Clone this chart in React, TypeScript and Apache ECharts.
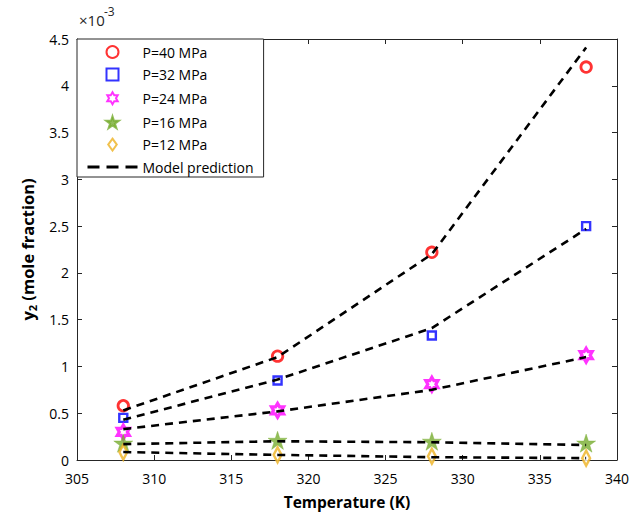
import React, { useEffect, useRef } from "react";
import * as echarts from "echarts";

const temperatures = [308, 318, 328, 338];
const seriesNames = ["P=40 MPa", "P=32 MPa", "P=24 MPa", "P=16 MPa", "P=12 MPa"];
// experimental y2 (x10^-3)
const exp40 = [0.58, 1.11, 2.22, 4.2];
const exp32 = [0.45, 0.85, 1.33, 2.5];
const exp24 = [0.3, 0.53, 0.81, 1.12];
const exp16 = [0.18, 0.21, 0.2, 0.18];
const exp12 = [0.085, 0.055, 0.04, 0.02];
// model prediction (x10^-3)
const mod40 = [0.53, 1.1, 2.2, 4.41];
const mod32 = [0.43, 0.86, 1.41, 2.47];
const mod24 = [0.33, 0.52, 0.75, 1.1];
const mod16 = [0.17, 0.2, 0.19, 0.16];
const mod12 = [0.085, 0.055, 0.03, 0.02];
const modelName = "Model prediction";

const xTicks = { min: 305, max: 340, interval: 5 };
const yTicks = { min: 0, max: 4.5, interval: 0.5 };

const HEX = "path://M50 0 L64.43 25 L93.3 25 L78.87 50 L93.3 75 L64.43 75 L50 100 L35.57 75 L6.7 75 L21.13 50 L6.7 25 L35.57 25 Z";
const STAR = "path://M50 0 L61.2 34.55 L97.55 34.55 L68.17 55.9 L79.39 90.45 L50 69.1 L20.61 90.45 L31.83 55.9 L2.45 34.55 L38.78 34.55 Z";
const SQUARE = "path://M0 0 L10 0 L10 10 L0 10 Z";
const DIAMOND = "path://M5 0 L10 7 L5 14 L0 7 Z";

const FONT = "Open Sans";
const AX = "#262626";

export default function App() {
  const ref = useRef<HTMLDivElement>(null);
  useEffect(() => {
    if (!ref.current) return;
    const chart = echarts.init(ref.current, null, { renderer: "svg" });
    const pair = (v: number[]) => temperatures.map((t, i) => [t, v[i]]);
    const expData = [exp40, exp32, exp24, exp16, exp12];
    const modData = [mod40, mod32, mod24, mod16, mod12];
    const markerStyles: any[] = [
      { symbol: "circle", symbolSize: 10.5, itemStyle: { color: "#fff", borderColor: "#ff0000", borderWidth: 2.8 } },
      { symbol: SQUARE, symbolSize: 8, itemStyle: { color: "#fff", borderColor: "#0000ff", borderWidth: 2.4 } },
      { symbol: HEX, symbolSize: 14, itemStyle: { color: "none", borderColor: "#ff00ff", borderWidth: 3.2 } },
      { symbol: STAR, symbolSize: 19, itemStyle: { color: "#77ac30", borderColor: "#77ac30", borderWidth: 0.5 } },
      { symbol: DIAMOND, symbolSize: [11, 15], itemStyle: { color: "#fff", borderColor: "#edb120", borderWidth: 2.6 } },
    ];
    const legendIcons = ["circle", SQUARE, HEX, STAR, DIAMOND];
    const scatterSeries = seriesNames.map((n, i) => ({
      type: "scatter",
      name: n,
      data: pair(expData[i]),
      symbolKeepAspect: true,
      z: 2,
      ...markerStyles[i],
    }));
    const lineSeries = modData.map((d) => ({
      type: "line",
      name: modelName,
      data: pair(d),
      symbol: "none",
      showSymbol: false,
      z: 3,
      lineStyle: { color: "#000", width: 2.6, type: [8, 6] },
      itemStyle: { color: "#000" },
    }));
    const axisCommon = {
      axisLine: { show: true, onZero: false, lineStyle: { color: AX, width: 1 } },
      axisTick: { show: true, inside: true, length: 5, lineStyle: { color: AX } },
      splitLine: { show: false },
    };
    chart.setOption({
      animation: false,
      backgroundColor: "#fff",
      textStyle: { fontFamily: FONT },
      grid: { left: 77, right: 15, top: 39, bottom: 54, containLabel: false },
      xAxis: [
        {
          type: "value",
          ...xTicks,
          ...axisCommon,
          name: "Temperature (K)",
          nameLocation: "middle",
          nameGap: 34,
          nameTextStyle: { fontFamily: FONT, fontSize: 15.5, fontWeight: "bold", color: "#000" },
          axisLabel: { fontFamily: FONT, fontSize: 14, color: "#000", margin: 11 },
        },
        {
          type: "value",
          position: "top",
          ...xTicks,
          ...axisCommon,
          axisLabel: { show: false },
        },
      ],
      yAxis: [
        {
          type: "value",
          ...yTicks,
          ...axisCommon,
          name: "{a|y}{s|2}{a| (mole fraction)}",
          nameLocation: "middle",
          nameGap: 39,
          nameRotate: 90,
          nameTextStyle: {
            color: "#000",
            rich: {
              a: { fontFamily: FONT, fontSize: 16.5, fontWeight: "bold", color: "#000", lineHeight: 22 },
              s: { fontFamily: FONT, fontSize: 11, fontWeight: "bold", color: "#000", lineHeight: 22, verticalAlign: "bottom", padding: [9, 0, 0, 0] },
            },
          },
          axisLabel: { fontFamily: FONT, fontSize: 14, color: "#000", margin: 8, formatter: (v: number) => String(v) },
        },
        {
          type: "value",
          position: "right",
          ...yTicks,
          ...axisCommon,
          axisLabel: { show: false },
        },
      ],
      legend: {
        orient: "vertical",
        left: 77,
        top: 39,
        padding: [6, 10, 3, 9],
        itemWidth: 50,
        itemHeight: 12,
        itemGap: 8.4,
        itemTextGap: 4,
        backgroundColor: "#fff",
        borderColor: AX,
        borderWidth: 1,
        borderRadius: 0,
        symbolKeepAspect: true,
        textStyle: { fontFamily: FONT, fontSize: 14, color: "#000" },
        data: [
          ...seriesNames.map((n, i) => ({ name: n, icon: legendIcons[i] })),
          {
            name: modelName,
            itemStyle: { color: "rgba(0,0,0,0)", borderColor: "rgba(0,0,0,0)", borderWidth: 0 },
            lineStyle: { color: "#000", width: 3, type: [12, 7] },
          },
        ],
      },
      graphic: [
        {
          type: "text",
          left: 79,
          top: 12,
          style: { text: "×10", fontFamily: FONT, fontSize: 15, fill: "#262626" },
        },
        {
          type: "text",
          left: 104,
          top: 5,
          style: { text: "-3", fontFamily: FONT, fontSize: 12, fill: "#262626" },
        },
      ],
      series: [...scatterSeries, ...lineSeries],
    });
    return () => chart.dispose();
  }, []);
  return <div ref={ref} style={{ position: "fixed", left: 0, top: 0, width: 632, height: 515 }} />;
}
